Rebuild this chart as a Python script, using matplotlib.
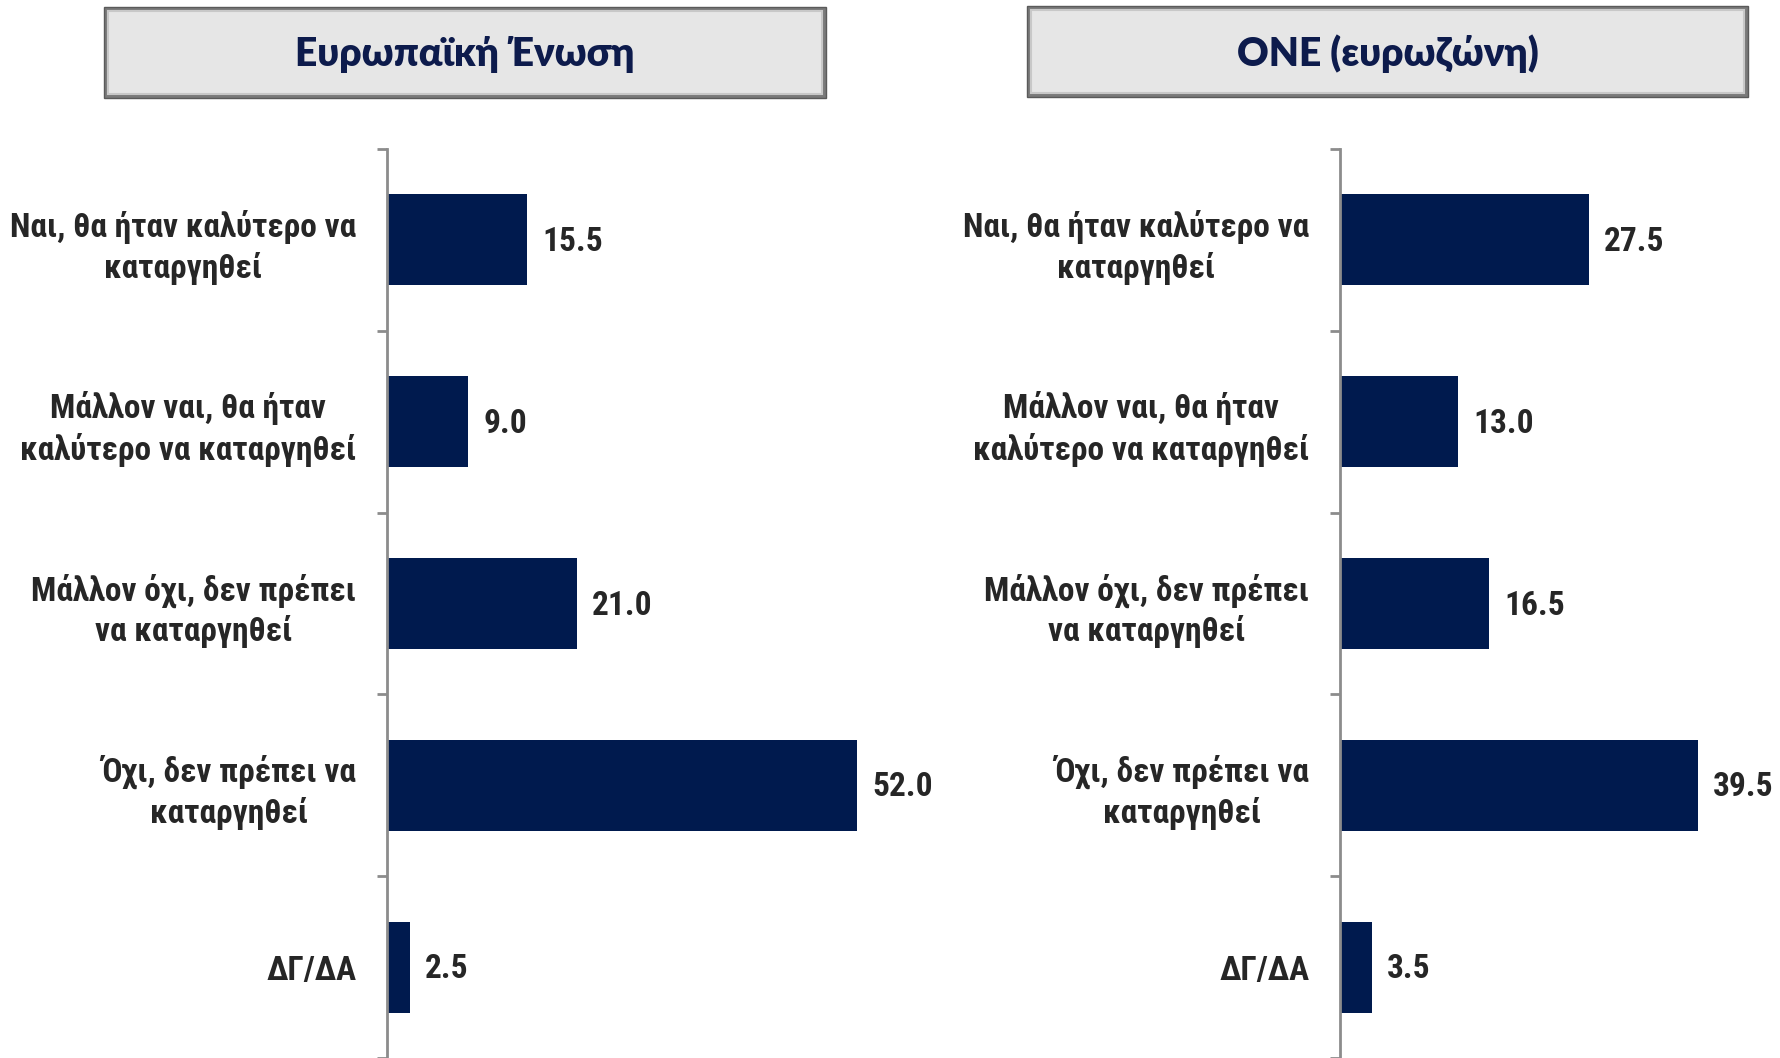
import matplotlib
matplotlib.use("Agg")
import matplotlib.pyplot as plt
from matplotlib.patches import Rectangle

# ── Data ──────────────────────────────────────────────────────────────────────
categories = [
    "Ναι, θα ήταν καλύτερο να\nκαταργηθεί",
    "Μάλλον ναι, θα ήταν\nκαλύτερο να καταργηθεί",
    "Μάλλον όχι, δεν πρέπει\nνα καταργηθεί",
    "Όχι, δεν πρέπει να\nκαταργηθεί",
    "ΔΓ/ΔΑ",
]
eu_values = [15.5, 9.0, 21.0, 52.0, 2.5]
ez_values = [27.5, 13.0, 16.5, 39.5, 3.5]
titles = ["Ευρωπαϊκή Ένωση", "ΟΝΕ (ευρωζώνη)"]

# ── Style ─────────────────────────────────────────────────────────────────────
BAR_COLOR = "#001A4E"
TEXT_COLOR = "#262626"
TITLE_COLOR = "#0D1B4C"
LABEL_FONT = ["Roboto Condensed", "Liberation Sans", "DejaVu Sans"]
TITLE_FONT = ["Lato", "Open Sans", "DejaVu Sans"]

W, H = 1781, 1058
fig = plt.figure(figsize=(W / 100, H / 100), dpi=100)
fig.patch.set_facecolor("white")


def panel(left_px, width_px, values, xmax):
    ax = fig.add_axes([left_px / W, 0.0, width_px / W, 1 - 149 / H])
    y = list(range(len(values)))
    ax.barh(y, values, height=0.5, color=BAR_COLOR, zorder=2)
    ax.set_ylim(len(values) - 0.5, -0.5)
    ax.set_xlim(0, xmax)

    # category labels centred on bars, ticks on the boundaries
    ax.set_yticks(y)
    ax.set_yticklabels(categories, family=LABEL_FONT, fontsize=24,
                       fontweight="bold", color=TEXT_COLOR,
                       multialignment="center", linespacing=1.3)
    ax.tick_params(axis="y", which="major", length=0, pad=22)
    ax.set_yticks([i - 0.5 for i in range(len(values) + 1)], minor=True)
    ax.tick_params(axis="y", which="minor", length=7, width=2,
                   color="#8C8C8C", direction="out")

    ax.set_xticks([])
    for side in ["top", "right", "bottom"]:
        ax.spines[side].set_visible(False)
    ax.spines["left"].set_color("#8C8C8C")
    ax.spines["left"].set_linewidth(2)

    for yi, v in zip(y, values):
        ax.annotate(f"{v:.1f}", (v, yi), xytext=(11, -1.5),
                    textcoords="offset points", va="center", ha="left",
                    family=LABEL_FONT, fontsize=24, fontweight="bold",
                    color=TEXT_COLOR)
    return ax


panel(387, 560, eu_values, 62)
panel(1340, 430, ez_values, 47.5)


def title_box(x0, x1, y0, y1, text):
    # outer dark frame + light inner face, mimicking the bevelled box
    fig.patches.append(Rectangle((x0 / W, 1 - y1 / H), (x1 - x0) / W,
                                 (y1 - y0) / H, transform=fig.transFigure,
                                 facecolor="#7A7A7A", edgecolor="#5A5A5A",
                                 linewidth=1))
    ins = 4
    fig.patches.append(Rectangle(((x0 + ins) / W, 1 - (y1 - ins) / H),
                                 (x1 - x0 - 2 * ins) / W,
                                 (y1 - y0 - 2 * ins) / H,
                                 transform=fig.transFigure,
                                 facecolor="#E6E6E6", edgecolor="#C8C8C8",
                                 linewidth=1.5))
    fig.text((x0 + x1) / 2 / W, 1 - ((y0 + y1) / 2 + 2) / H, text,
             ha="center", va="center", family=TITLE_FONT, fontsize=28,
             fontweight="heavy", color=TITLE_COLOR)


title_box(104, 826, 7, 98, titles[0])
title_box(1027, 1748, 6, 97, titles[1])

fig.savefig("out.png", dpi=100, facecolor="white")
